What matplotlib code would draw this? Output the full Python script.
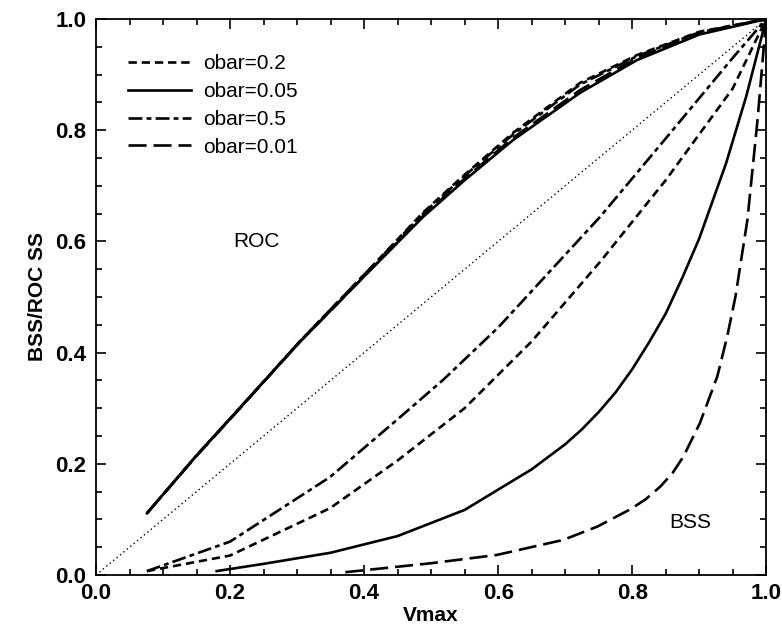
import matplotlib
matplotlib.use('Agg')
import matplotlib.pyplot as plt
from matplotlib.ticker import MultipleLocator, FormatStrFormatter

plt.rcParams['font.family'] = ['Liberation Sans', 'DejaVu Sans']
plt.rcParams['lines.scale_dashes'] = False

# ROC curves (all four lie nearly on top of each other)
roc_x = [0.076, 0.15, 0.212, 0.304, 0.4, 0.488, 0.55, 0.622, 0.722, 0.807, 0.9, 1.0]
roc_02 = [0.111, 0.215, 0.297, 0.42, 0.54, 0.652, 0.72, 0.795, 0.885, 0.935, 0.977, 1.0]
roc_005 = [0.111, 0.215, 0.297, 0.419, 0.537, 0.644, 0.71, 0.782, 0.867, 0.926, 0.972, 1.0]
roc_05 = [0.111, 0.215, 0.297, 0.42, 0.54, 0.65, 0.718, 0.792, 0.882, 0.933, 0.976, 1.0]
roc_001 = [0.111, 0.214, 0.296, 0.419, 0.537, 0.646, 0.713, 0.786, 0.872, 0.93, 0.974, 1.0]

# BSS curves
bss_02_x = [0.076, 0.2, 0.349, 0.449, 0.55, 0.65, 0.752, 0.85, 0.95, 1.0]
bss_02_y = [0.007, 0.035, 0.12, 0.205, 0.30, 0.42, 0.563, 0.71, 0.875, 1.0]
bss_005_x = [0.18, 0.25, 0.35, 0.45, 0.55, 0.65, 0.70, 0.725, 0.75, 0.775, 0.80, 0.825,
             0.85, 0.875, 0.90, 0.94, 0.97, 1.0]
bss_005_y = [0.007, 0.020, 0.040, 0.070, 0.117, 0.19, 0.235, 0.262, 0.293, 0.328, 0.37, 0.418,
             0.47, 0.535, 0.605, 0.74, 0.86, 1.0]
bss_05_x = [0.076, 0.2, 0.349, 0.449, 0.518, 0.6, 0.752, 0.85, 0.95, 1.0]
bss_05_y = [0.007, 0.06, 0.176, 0.279, 0.351, 0.445, 0.644, 0.785, 0.93, 1.0]
bss_001_x = [0.372, 0.499, 0.598, 0.697, 0.748, 0.797, 0.82, 0.842, 0.86, 0.876, 0.901, 0.927,
             0.942, 0.954, 0.972, 0.987, 1.0]
bss_001_y = [0.005, 0.021, 0.036, 0.063, 0.087, 0.118, 0.136, 0.159, 0.183, 0.212, 0.273, 0.357,
             0.43, 0.50, 0.639, 0.818, 1.0]

labels = ['obar=0.2', 'obar=0.05', 'obar=0.5', 'obar=0.01']

dash_02 = (0, (6, 3.5))
dash_005 = '-'
dash_05 = (0, (10, 3, 3.5, 3))
dash_001 = (0, (13, 5))
lw = 1.9

fig = plt.figure(figsize=(7.82, 6.42), dpi=100)
ax = fig.add_axes([0.1228, 0.1044, 0.857, 0.866])

ax.plot([0, 1], [0, 1], color='black', lw=1.0, linestyle=(0, (1, 2.2)))

ax.plot(roc_x, roc_02, color='black', lw=lw, linestyle=dash_02, label=labels[0])
ax.plot(roc_x, roc_005, color='black', lw=lw, linestyle=dash_005, label=labels[1])
ax.plot(roc_x, roc_05, color='black', lw=lw, linestyle=dash_05, label=labels[2])
ax.plot(roc_x, roc_001, color='black', lw=lw, linestyle=dash_001, label=labels[3])

ax.plot(bss_02_x, bss_02_y, color='black', lw=lw, linestyle=dash_02)
ax.plot(bss_005_x, bss_005_y, color='black', lw=lw, linestyle=dash_005)
ax.plot(bss_05_x, bss_05_y, color='black', lw=lw, linestyle=dash_05)
ax.plot(bss_001_x, bss_001_y, color='black', lw=lw, linestyle=dash_001)

ax.text(0.24, 0.6, 'ROC', fontsize=15, ha='center', va='center')
ax.text(0.887, 0.095, 'BSS', fontsize=15, ha='center', va='center')

ax.set_xlim(0, 1)
ax.set_ylim(0, 1)
ax.xaxis.set_major_locator(MultipleLocator(0.2))
ax.xaxis.set_minor_locator(MultipleLocator(0.05))
ax.yaxis.set_major_locator(MultipleLocator(0.2))
ax.yaxis.set_minor_locator(MultipleLocator(0.05))
ax.xaxis.set_major_formatter(FormatStrFormatter('%.1f'))
ax.yaxis.set_major_formatter(FormatStrFormatter('%.1f'))
ax.tick_params(which='both', direction='in', top=True, right=True, labelsize=16, width=1.2)
ax.tick_params(which='major', length=7)
ax.tick_params(axis='x', which='major', pad=6)
ax.tick_params(axis='y', which='major', pad=7)
ax.tick_params(which='minor', length=4)
for lab in ax.get_xticklabels() + ax.get_yticklabels():
    lab.set_fontweight('bold')
for s in ax.spines.values():
    s.set_linewidth(1.3)

ax.set_xlabel('Vmax', fontsize=15, fontweight='bold', labelpad=1)
ax.set_ylabel('BSS/ROC SS', fontsize=15, fontweight='bold', labelpad=6)

leg = ax.legend(loc='upper left', bbox_to_anchor=(0.02, 0.97), frameon=False,
                fontsize=15, handlelength=3.0, handletextpad=0.6, labelspacing=0.42)

fig.savefig('out.png', dpi=100)
